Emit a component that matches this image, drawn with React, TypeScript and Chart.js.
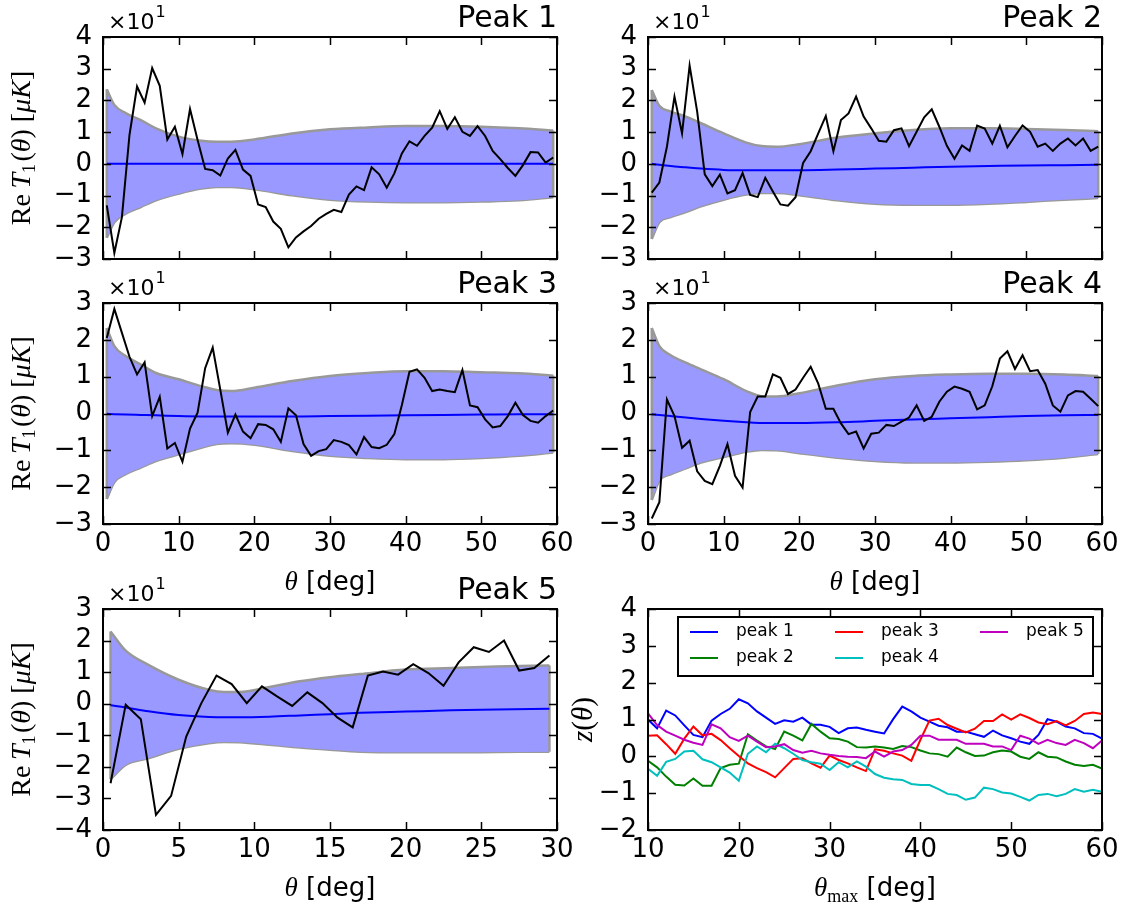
import React, { useEffect, useRef } from "react";
import { Chart, registerables } from "chart.js";

Chart.register(...registerables);

// ---------------- data ----------------
const THETA_60 = [0.5, 1.5, 2.5, 3.5, 4.5, 5.5, 6.5, 7.5, 8.5, 9.5, 10.5, 11.5, 12.5, 13.5, 14.5, 15.5, 16.5, 17.5, 18.5, 19.5, 20.5, 21.5, 22.5, 23.5, 24.5, 25.5, 26.5, 27.5, 28.5, 29.5, 30.5, 31.5, 32.5, 33.5, 34.5, 35.5, 36.5, 37.5, 38.5, 39.5, 40.5, 41.5, 42.5, 43.5, 44.5, 45.5, 46.5, 47.5, 48.5, 49.5, 50.5, 51.5, 52.5, 53.5, 54.5, 55.5, 56.5, 57.5, 58.5, 59.5];
const THETA_30 = [0.5, 1.5, 2.5, 3.5, 4.5, 5.5, 6.5, 7.5, 8.5, 9.5, 10.5, 11.5, 12.5, 13.5, 14.5, 15.5, 16.5, 17.5, 18.5, 19.5, 20.5, 21.5, 22.5, 23.5, 24.5, 25.5, 26.5, 27.5, 28.5, 29.5];
const THETA_MAX = [10, 11, 12, 13, 14, 15, 16, 17, 18, 19, 20, 21, 22, 23, 24, 25, 26, 27, 28, 29, 30, 31, 32, 33, 34, 35, 36, 37, 38, 39, 40, 41, 42, 43, 44, 45, 46, 47, 48, 49, 50, 51, 52, 53, 54, 55, 56, 57, 58, 59, 60];

const PEAK1_T1 = [-1.31, -2.81, -1.68, 0.91, 2.44, 1.93, 3.02, 2.46, 0.77, 1.17, 0.31, 1.73, 0.75, -0.16, -0.2, -0.37, 0.17, 0.44, -0.18, -0.38, -1.28, -1.36, -1.82, -2.05, -2.63, -2.32, -2.13, -1.96, -1.73, -1.58, -1.45, -1.52, -0.97, -0.71, -0.83, -0.11, -0.33, -0.75, -0.3, 0.33, 0.71, 0.57, 0.88, 1.14, 1.66, 1.1, 1.47, 1.01, 0.88, 1.19, 0.88, 0.41, 0.15, -0.13, -0.38, -0.04, 0.37, 0.36, 0.04, 0.2];
const PEAK2_T1 = [-0.91, -0.59, 0.54, 2.12, 0.96, 3.1, 1.65, -0.33, -0.7, -0.34, -0.93, -0.83, -0.29, -0.98, -1.05, -0.44, -0.87, -1.28, -1.32, -1.05, 0.03, 0.4, 0.96, 1.51, 0.4, 1.38, 1.59, 2.12, 1.49, 1.12, 0.73, 0.7, 1.06, 1.12, 0.56, 1.01, 1.47, 1.72, 1.17, 0.57, 0.16, 0.58, 0.41, 1.21, 1.11, 0.64, 1.2, 0.52, 0.88, 1.21, 1.01, 0.54, 0.64, 0.41, 0.64, 0.8, 0.58, 0.8, 0.41, 0.54];
const PEAK3_T1 = [2.05, 2.84, 2.19, 1.54, 1.06, 1.39, -0.07, 0.45, -0.95, -0.8, -1.31, -0.41, 0.02, 1.23, 1.79, 0.65, -0.52, -0.03, -0.49, -0.67, -0.29, -0.31, -0.43, -0.77, 0.14, -0.05, -0.83, -1.15, -1.02, -0.97, -0.72, -0.77, -0.86, -1.11, -0.64, -0.91, -0.94, -0.85, -0.56, 0.23, 1.13, 1.2, 0.97, 0.61, 0.65, 0.61, 0.58, 1.18, 0.22, 0.17, -0.16, -0.38, -0.34, -0.07, 0.29, -0.04, -0.2, -0.25, -0.07, 0.08];
const PEAK4_T1 = [-2.85, -2.41, 0.38, -0.07, -0.93, -0.74, -1.57, -1.83, -1.92, -1.42, -0.83, -1.69, -2.01, 0.04, 0.46, 0.46, 1.06, 0.97, 0.53, 0.65, 0.97, 1.27, 0.81, 0.13, 0.13, -0.27, -0.56, -0.49, -0.95, -0.55, -0.52, -0.31, -0.34, -0.22, -0.11, 0.22, -0.2, -0.09, 0.32, 0.59, 0.73, 0.67, 0.59, 0.11, 0.22, 0.74, 1.49, 1.69, 1.21, 1.58, 1.15, 1.18, 0.81, 0.22, 0.05, 0.49, 0.61, 0.59, 0.4, 0.2];
const PEAK5_T1 = [-2.52, -0.03, -0.49, -3.52, -2.92, -1.04, 0.02, 0.89, 0.62, 0.02, 0.55, 0.23, -0.07, 0.36, 0.02, -0.44, -0.75, 0.89, 1.02, 0.92, 1.25, 0.97, 0.57, 1.31, 1.79, 1.64, 2.0, 1.05, 1.13, 1.53];

// band (expected range) sampled positions
const BAND_X_60 = [0.5, 1.5, 3, 5, 7, 10, 13, 15, 17, 20, 25, 30, 35, 40, 45, 50, 55, 59.5];
const BAND_X_30 = [0.5, 1.5, 3, 5, 7, 8, 9, 11, 13, 15, 17, 20, 23, 26, 29.5];

const PEAK1_UPPER = [2.35, 1.86, 1.6, 1.38, 1.12, 0.86, 0.73, 0.7, 0.7, 0.77, 0.96, 1.09, 1.15, 1.19, 1.19, 1.17, 1.12, 1.05];
const PEAK1_LOWER = [-2.33, -1.84, -1.57, -1.36, -1.15, -0.94, -0.78, -0.73, -0.73, -0.8, -0.99, -1.13, -1.19, -1.21, -1.21, -1.19, -1.15, -1.05];
const PEAK1_MEAN = [0, 0, 0, 0, 0, 0, 0, 0, 0, 0, 0, 0, 0, 0, 0, 0, 0, 0];

const PEAK2_UPPER = [2.33, 1.83, 1.65, 1.49, 1.28, 0.96, 0.67, 0.56, 0.54, 0.62, 0.83, 0.96, 1.07, 1.12, 1.12, 1.1, 1.07, 1.03];
const PEAK2_LOWER = [-2.37, -1.84, -1.68, -1.52, -1.34, -1.13, -0.97, -0.92, -0.92, -0.99, -1.15, -1.26, -1.29, -1.29, -1.26, -1.2, -1.13, -1.08];
const PEAK2_MEAN = [0, -0.03, -0.07, -0.11, -0.15, -0.19, -0.2, -0.2, -0.2, -0.2, -0.18, -0.15, -0.12, -0.09, -0.07, -0.05, -0.04, -0.03];

const PEAK3_UPPER = [2.32, 1.83, 1.56, 1.33, 1.1, 0.93, 0.74, 0.64, 0.61, 0.7, 0.88, 1.02, 1.1, 1.15, 1.15, 1.12, 1.09, 1.03];
const PEAK3_LOWER = [-2.32, -1.87, -1.65, -1.47, -1.29, -1.11, -0.93, -0.83, -0.81, -0.85, -1.02, -1.15, -1.21, -1.24, -1.24, -1.21, -1.15, -1.06];
const PEAK3_MEAN = [-0.01, -0.02, -0.03, -0.04, -0.05, -0.07, -0.08, -0.08, -0.08, -0.08, -0.08, -0.07, -0.06, -0.05, -0.04, -0.03, -0.02, -0.02];

const PEAK4_UPPER = [2.32, 1.83, 1.58, 1.38, 1.2, 0.93, 0.61, 0.47, 0.46, 0.55, 0.76, 0.93, 1.02, 1.06, 1.08, 1.08, 1.06, 1.02];
const PEAK4_LOWER = [-2.35, -1.83, -1.65, -1.49, -1.33, -1.18, -1.04, -0.99, -1.0, -1.08, -1.2, -1.29, -1.33, -1.33, -1.31, -1.27, -1.2, -1.1];
const PEAK4_MEAN = [-0.02, -0.04, -0.07, -0.11, -0.15, -0.2, -0.24, -0.26, -0.26, -0.26, -0.24, -0.2, -0.16, -0.13, -0.1, -0.07, -0.05, -0.04];

const PEAK5_UPPER = [2.29, 1.68, 1.23, 0.76, 0.44, 0.37, 0.37, 0.53, 0.71, 0.84, 0.94, 1.08, 1.13, 1.18, 1.21];
const PEAK5_LOWER = [-2.39, -1.94, -1.73, -1.43, -1.25, -1.21, -1.22, -1.3, -1.39, -1.46, -1.52, -1.54, -1.54, -1.53, -1.52];
const PEAK5_MEAN = [-0.05, -0.12, -0.24, -0.36, -0.42, -0.43, -0.43, -0.41, -0.37, -0.33, -0.29, -0.25, -0.21, -0.18, -0.16];

// z(theta_max) curves
const Z_PEAK1 = [1.0, 0.76, 1.24, 1.11, 0.84, 0.58, 0.52, 0.97, 1.15, 1.29, 1.55, 1.44, 1.22, 1.05, 0.88, 0.98, 0.94, 1.05, 0.86, 0.86, 0.8, 0.63, 0.76, 0.78, 0.72, 0.67, 0.62, 1.01, 1.35, 1.22, 1.05, 0.94, 0.83, 0.79, 0.67, 0.67, 0.6, 0.53, 0.7, 0.57, 0.49, 0.4, 0.34, 0.58, 1.01, 0.94, 0.81, 0.76, 0.63, 0.61, 0.48];
const Z_PEAK2 = [-0.12, -0.3, -0.55, -0.77, -0.79, -0.6, -0.8, -0.8, -0.32, -0.23, -0.2, 0.6, 0.43, 0.27, 0.2, 0.67, 0.56, 0.43, 0.88, 0.67, 0.49, 0.47, 0.4, 0.25, 0.24, 0.27, 0.24, 0.2, 0.28, 0.25, 0.16, 0.08, 0.06, -0.01, 0.24, 0.11, 0.01, 0.02, 0.11, 0.16, 0.13, -0.01, -0.07, 0.11, -0.01, -0.03, -0.14, -0.23, -0.26, -0.23, -0.33];
const Z_PEAK3 = [0.56, 0.57, 0.33, 0.07, 0.48, 0.81, 0.57, 0.61, 0.44, 0.22, 0.01, -0.19, -0.32, -0.43, -0.57, -0.32, -0.07, -0.05, -0.19, -0.31, 0.02, -0.1, -0.19, -0.3, -0.4, 0.19, 0.15, 0.08, 0.02, -0.12, 0.45, 0.97, 1.02, 0.85, 0.75, 0.65, 0.75, 0.96, 0.96, 1.14, 1.0, 1.14, 1.04, 0.92, 0.87, 0.96, 0.84, 0.96, 1.15, 1.19, 1.15];
const Z_PEAK4 = [-0.34, -0.53, -0.15, -0.07, 0.13, 0.15, -0.08, -0.16, -0.3, -0.44, -0.66, 0.07, 0.27, 0.11, 0.34, 0.22, 0.07, -0.1, -0.16, -0.2, -0.37, -0.16, -0.3, -0.14, -0.28, -0.48, -0.58, -0.62, -0.64, -0.75, -0.78, -0.78, -0.89, -1.02, -1.05, -1.18, -1.12, -0.85, -0.89, -0.98, -1.01, -1.1, -1.2, -1.05, -1.02, -1.08, -1.02, -0.89, -0.96, -0.91, -0.96];
const Z_PEAK5 = [1.17, 0.85, 0.67, 0.56, 0.45, 0.37, 0.31, 0.87, 0.76, 0.52, 0.42, 0.56, 0.4, 0.25, 0.27, 0.33, 0.17, 0.1, 0.15, 0.08, 0.04, 0.01, -0.01, -0.02, -0.05, 0.13, -0.01, 0.13, 0.17, 0.31, 0.56, 0.56, 0.45, 0.45, 0.45, 0.34, 0.34, 0.34, 0.27, 0.27, 0.17, 0.56, 0.48, 0.34, 0.45, 0.36, 0.31, 0.45, 0.36, 0.22, 0.43];

const LEGEND_LABELS = ["peak 1", "peak 2", "peak 3", "peak 4", "peak 5"];
const LEGEND_COLORS = ["#0000ff", "#008000", "#ff0000", "#00bfbf", "#bf00bf"];

// ticks
const X_TICKS_60 = [0, 10, 20, 30, 40, 50, 60];
const X_TICKS_30 = [0, 5, 10, 15, 20, 25, 30];
const X_TICKS_Z = [10, 20, 30, 40, 50, 60];
const Y_TICKS_ROW1 = [-3, -2, -1, 0, 1, 2, 3, 4];
const Y_TICKS_ROW2 = [-3, -2, -1, 0, 1, 2, 3];
const Y_TICKS_P5 = [-4, -3, -2, -1, 0, 1, 2, 3];
const Y_TICKS_Z = [-2, -1, 0, 1, 2, 3, 4];

// ---------------- styling / layout ----------------
const FILL = "rgb(153,153,255)";
const EDGE = "rgb(153,153,153)";
const SANS = "'DejaVu Sans'";
const SERIF = "'Liberation Serif'";
const L = 103;
const T = 37;
const R = 30;
const B = 79;

type Seg = { t: string; f: string; dy?: number };

const Y_TITLE_T1: Seg[] = [
  { t: "Re", f: `28px ${SERIF}` },
  { t: "\u2009", f: `28px ${SERIF}` },
  { t: "T", f: `italic 28px ${SERIF}` },
  { t: "1", f: `18px ${SERIF}`, dy: 7 },
  { t: "\u200a(", f: `28px ${SERIF}` },
  { t: "θ", f: `italic 28px ${SERIF}` },
  { t: ")", f: `28px ${SERIF}` },
  { t: " [", f: `28px ${SERIF}` },
  { t: "μK", f: `italic 28px ${SERIF}` },
  { t: "]", f: `28px ${SERIF}` },
];
const Y_TITLE_Z: Seg[] = [
  { t: "z", f: `italic 29px ${SERIF}` },
  { t: "(", f: `29px ${SERIF}` },
  { t: "θ", f: `italic 29px ${SERIF}` },
  { t: ")", f: `29px ${SERIF}` },
];
const X_TITLE_THETA: Seg[] = [
  { t: "θ", f: `italic 27px ${SERIF}` },
  { t: " [deg]", f: `26px ${SANS}` },
];
const X_TITLE_THMAX: Seg[] = [
  { t: "θ", f: `italic 27px ${SERIF}` },
  { t: "max", f: `18px ${SERIF}`, dy: 8 },
  { t: " [deg]", f: `26px ${SANS}` },
];

function drawRich(ctx: CanvasRenderingContext2D, segs: Seg[], cx: number, cy: number, rotate: boolean) {
  ctx.save();
  ctx.translate(cx, cy);
  if (rotate) ctx.rotate(-Math.PI / 2);
  let total = 0;
  for (const s of segs) {
    ctx.font = s.f;
    total += ctx.measureText(s.t).width;
  }
  let x = -total / 2;
  ctx.textBaseline = "middle";
  ctx.textAlign = "left";
  ctx.fillStyle = "#000";
  for (const s of segs) {
    ctx.font = s.f;
    ctx.fillText(s.t, x, s.dy || 0);
    x += ctx.measureText(s.t).width;
  }
  ctx.restore();
}

const pts = (xs: number[], ys: number[]) => xs.map((x, i) => ({ x, y: ys[i] }));

function t1Datasets(theta: number[], vals: number[], bx: number[], up: number[], lo: number[], mean: number[]) {
  const n = bx.length - 1;
  return [
    { data: pts(theta, vals), borderColor: "#000", borderWidth: 2, tension: 0, fill: false },
    { data: pts(bx, mean), borderColor: "#0000ff", borderWidth: 2, cubicInterpolationMode: "monotone", fill: false },
    { data: [{ x: bx[0], y: up[0] }, { x: bx[0], y: lo[0] }], borderColor: EDGE, borderWidth: 2.5, fill: false },
    { data: [{ x: bx[n], y: up[n] }, { x: bx[n], y: lo[n] }], borderColor: EDGE, borderWidth: 2.5, fill: false },
    { data: pts(bx, up), borderColor: EDGE, borderWidth: 2.5, cubicInterpolationMode: "monotone", fill: "+1", backgroundColor: FILL },
    { data: pts(bx, lo), borderColor: EDGE, borderWidth: 2.5, cubicInterpolationMode: "monotone", fill: false },
  ];
}

interface Panel {
  frame: [number, number, number, number];
  xMin: number; xMax: number; yMin: number; yMax: number;
  xTicks: number[]; yTicks: number[];
  xLabels: boolean;
  title?: string;
  note: boolean;
  yTitle?: Seg[];
  yTitleOffset: number;
  xTitle?: Seg[];
  legend?: boolean;
  datasets: any[];
}

const PANELS: Panel[] = [
  { frame: [103, 37, 557, 259], xMin: 0, xMax: 60, yMin: -3, yMax: 4, xTicks: X_TICKS_60, yTicks: Y_TICKS_ROW1, xLabels: false, title: "Peak 1", note: true, yTitle: Y_TITLE_T1, yTitleOffset: 80,
    datasets: t1Datasets(THETA_60, PEAK1_T1, BAND_X_60, PEAK1_UPPER, PEAK1_LOWER, PEAK1_MEAN) },
  { frame: [648, 37, 1102, 259], xMin: 0, xMax: 60, yMin: -3, yMax: 4, xTicks: X_TICKS_60, yTicks: Y_TICKS_ROW1, xLabels: false, title: "Peak 2", note: true, yTitleOffset: 80,
    datasets: t1Datasets(THETA_60, PEAK2_T1, BAND_X_60, PEAK2_UPPER, PEAK2_LOWER, PEAK2_MEAN) },
  { frame: [103, 303, 557, 524], xMin: 0, xMax: 60, yMin: -3, yMax: 3, xTicks: X_TICKS_60, yTicks: Y_TICKS_ROW2, xLabels: true, title: "Peak 3", note: true, yTitle: Y_TITLE_T1, yTitleOffset: 80, xTitle: X_TITLE_THETA,
    datasets: t1Datasets(THETA_60, PEAK3_T1, BAND_X_60, PEAK3_UPPER, PEAK3_LOWER, PEAK3_MEAN) },
  { frame: [648, 303, 1102, 524], xMin: 0, xMax: 60, yMin: -3, yMax: 3, xTicks: X_TICKS_60, yTicks: Y_TICKS_ROW2, xLabels: true, title: "Peak 4", note: true, yTitleOffset: 80, xTitle: X_TITLE_THETA,
    datasets: t1Datasets(THETA_60, PEAK4_T1, BAND_X_60, PEAK4_UPPER, PEAK4_LOWER, PEAK4_MEAN) },
  { frame: [103, 609, 557, 830], xMin: 0, xMax: 30, yMin: -4, yMax: 3, xTicks: X_TICKS_30, yTicks: Y_TICKS_P5, xLabels: true, title: "Peak 5", note: true, yTitle: Y_TITLE_T1, yTitleOffset: 80, xTitle: X_TITLE_THETA,
    datasets: t1Datasets(THETA_30, PEAK5_T1, BAND_X_30, PEAK5_UPPER, PEAK5_LOWER, PEAK5_MEAN) },
  { frame: [648, 609, 1102, 830], xMin: 10, xMax: 60, yMin: -2, yMax: 4, xTicks: X_TICKS_Z, yTicks: Y_TICKS_Z, xLabels: true, note: false, yTitle: Y_TITLE_Z, yTitleOffset: 64, xTitle: X_TITLE_THMAX, legend: true,
    datasets: [Z_PEAK1, Z_PEAK2, Z_PEAK3, Z_PEAK4, Z_PEAK5].map((z, i) => ({
      data: pts(THETA_MAX, z), borderColor: LEGEND_COLORS[i], borderWidth: 2, tension: 0, fill: false, order: 4 - i,
    })) },
];

const fmt = (v: any) => {
  const n = Number(v);
  return n < 0 ? "\u2212" + Math.abs(n) : String(n);
};

function buildConfig(p: Panel): any {
  const decor = {
    id: "decor",
    afterDatasetsDraw(chart: any) {
      const ctx = chart.ctx as CanvasRenderingContext2D;
      const { left, top, right, bottom } = chart.chartArea;
      const xs = chart.scales.x;
      const ys = chart.scales.y;
      ctx.save();
      ctx.strokeStyle = "#000";
      ctx.lineWidth = 1.5;
      ctx.beginPath();
      for (const v of p.xTicks) {
        const px = Math.round(xs.getPixelForValue(v)) + 0.5;
        ctx.moveTo(px, bottom); ctx.lineTo(px, bottom - 8);
        ctx.moveTo(px, top); ctx.lineTo(px, top + 8);
      }
      for (const v of p.yTicks) {
        const py = Math.round(ys.getPixelForValue(v)) + 0.5;
        ctx.moveTo(left, py); ctx.lineTo(left + 8, py);
        ctx.moveTo(right, py); ctx.lineTo(right - 8, py);
      }
      ctx.stroke();
      ctx.lineWidth = 2;
      ctx.strokeRect(left, top, right - left, bottom - top);
      ctx.restore();
    },
    afterDraw(chart: any) {
      const ctx = chart.ctx as CanvasRenderingContext2D;
      const { left, top, right, bottom } = chart.chartArea;
      ctx.save();
      ctx.fillStyle = "#000";
      if (p.title) {
        ctx.font = `30px ${SANS}`;
        ctx.textAlign = "right";
        ctx.textBaseline = "alphabetic";
        ctx.fillText(p.title, right, top - 10);
      }
      if (p.note) {
        ctx.textAlign = "left";
        ctx.textBaseline = "alphabetic";
        ctx.font = `22px ${SANS}`;
        const x0 = left + 5;
        ctx.fillText("×10", x0, top - 8);
        const w = ctx.measureText("×10").width;
        ctx.font = `16px ${SANS}`;
        ctx.fillText("1", x0 + w + 1, top - 20);
      }
      if (p.yTitle) drawRich(ctx, p.yTitle, left - p.yTitleOffset, (top + bottom) / 2, true);
      if (p.xTitle) drawRich(ctx, p.xTitle, (left + right) / 2, bottom + 59, false);
      if (p.legend) {
        const bx0 = left + 30, by0 = top + 8, bw = 415, bh = 59;
        ctx.fillStyle = "#fff";
        ctx.fillRect(bx0, by0, bw, bh);
        ctx.strokeStyle = "#000";
        ctx.lineWidth = 2;
        ctx.strokeRect(bx0, by0, bw, bh);
        const colX = [42, 187, 332];
        const rowY = [23, 49];
        ctx.font = `17px ${SANS}`;
        ctx.textAlign = "left";
        ctx.textBaseline = "middle";
        LEGEND_LABELS.forEach((lab, i) => {
          const col = Math.floor(i / 2);
          const row = i % 2;
          const hx = left + colX[col];
          const hy = top + rowY[row];
          ctx.strokeStyle = LEGEND_COLORS[i];
          ctx.lineWidth = 2;
          ctx.beginPath();
          ctx.moveTo(hx, hy);
          ctx.lineTo(hx + 28, hy);
          ctx.stroke();
          ctx.fillStyle = "#000";
          ctx.fillText(lab, hx + 46, hy);
        });
      }
      ctx.restore();
    },
  };

  return {
    type: "line",
    data: { datasets: p.datasets },
    options: {
      animation: false,
      responsive: false,
      maintainAspectRatio: false,
      devicePixelRatio: 1,
      layout: { padding: { left: 0, top: T, right: R, bottom: 0 } },
      elements: { point: { radius: 0, hoverRadius: 0 } },
      plugins: { legend: { display: false }, tooltip: { enabled: false }, title: { display: false } },
      events: [],
      scales: {
        x: {
          type: "linear",
          min: p.xMin,
          max: p.xMax,
          grid: { display: false, drawTicks: false },
          border: { display: false },
          afterBuildTicks: (s: any) => { s.ticks = p.xTicks.map((v) => ({ value: v })); },
          afterFit: (s: any) => { s.height = B; },
          ticks: {
            display: p.xLabels,
            autoSkip: false,
            maxRotation: 0,
            minRotation: 0,
            padding: 5,
            color: "#000",
            font: { family: "DejaVu Sans", size: 26 },
            callback: fmt,
          },
        },
        y: {
          type: "linear",
          min: p.yMin,
          max: p.yMax,
          grid: { display: false, drawTicks: false },
          border: { display: false },
          afterBuildTicks: (s: any) => { s.ticks = p.yTicks.map((v) => ({ value: v })); },
          afterFit: (s: any) => { s.width = L; },
          ticks: {
            autoSkip: false,
            padding: 11,
            color: "#000",
            font: { family: "DejaVu Sans", size: 26 },
            callback: fmt,
          },
        },
      },
    },
    plugins: [decor],
  };
}

function PanelChart({ p }: { p: Panel }) {
  const ref = useRef<HTMLCanvasElement | null>(null);
  useEffect(() => {
    if (!ref.current) return;
    const chart = new Chart(ref.current, buildConfig(p));
    return () => chart.destroy();
  }, [p]);
  const [l, t, r, b] = p.frame;
  const w = r - l + L + R;
  const h = b - t + T + B;
  return (
    <canvas
      ref={ref}
      width={w}
      height={h}
      style={{ position: "absolute", left: l - L, top: t - T, width: w, height: h }}
    />
  );
}

export default function App() {
  return (
    <div style={{ position: "absolute", left: 0, top: 0, width: 1134, height: 909, background: "#fff", overflow: "hidden" }}>
      {PANELS.map((p, i) => (
        <PanelChart key={i} p={p} />
      ))}
    </div>
  );
}
